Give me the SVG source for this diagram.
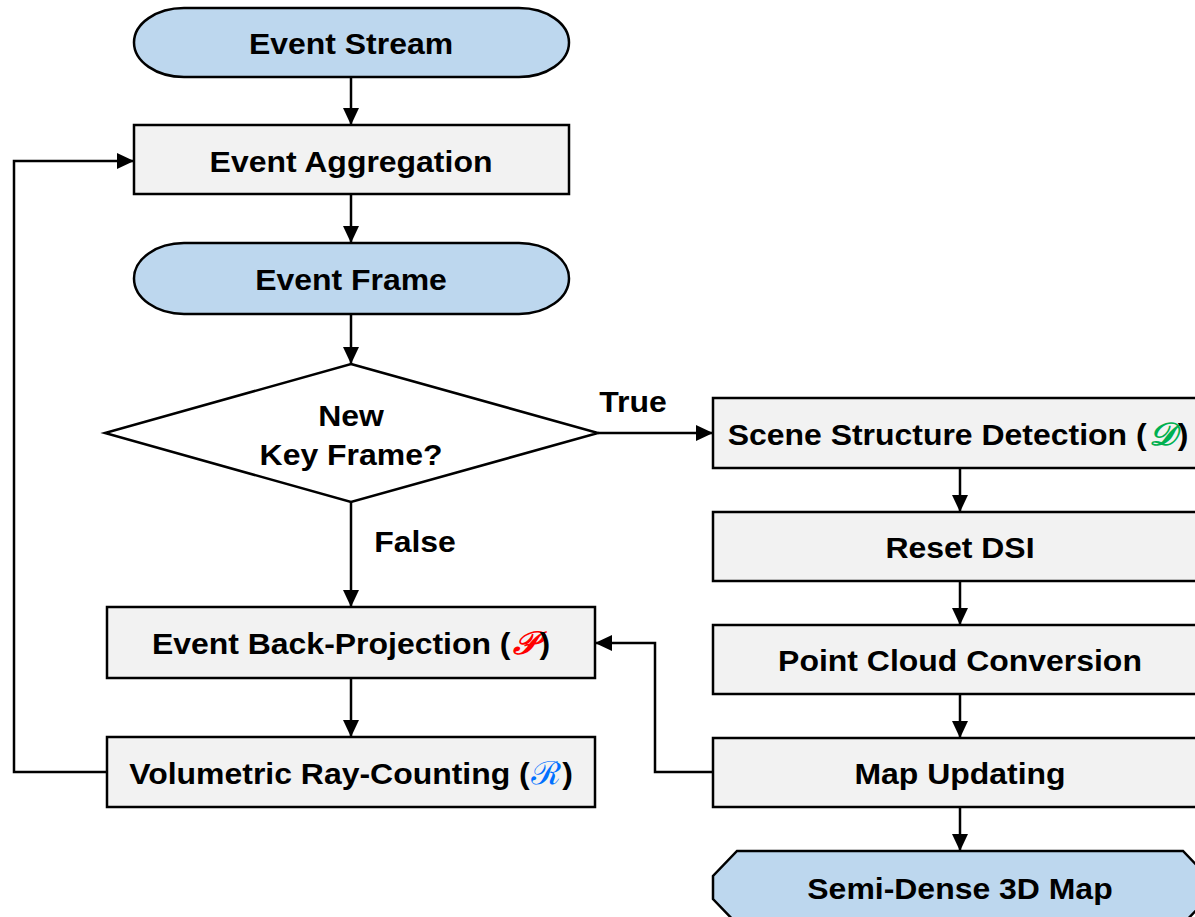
<svg xmlns="http://www.w3.org/2000/svg" width="1195" height="917" viewBox="0 0 1195 917">
<defs>
<style>
.blue{fill:#BDD7EE;stroke:#000;stroke-width:2.5}
.gray{fill:#F2F2F2;stroke:#000;stroke-width:2.5}
.t{font-family:"Liberation Sans",Arial,sans-serif;font-weight:bold;font-size:30px;fill:#000;text-anchor:middle}
.c{fill:none;stroke:#000;stroke-width:2.5}
.m{font-family:"DejaVu Serif","Noto Sans",serif;font-style:italic;font-weight:bold;font-size:32px}
</style>
<marker id="a" markerWidth="18" markerHeight="16" refX="17" refY="8" orient="auto" markerUnits="userSpaceOnUse">
<path d="M0,0 L17,8 L0,16 Z" fill="#000"/>
</marker>
</defs>
<g id="connectors">
<line class="c" x1="351" y1="77" x2="351" y2="125" marker-end="url(#a)"/>
<line class="c" x1="351" y1="194" x2="351" y2="243" marker-end="url(#a)"/>
<line class="c" x1="351" y1="314" x2="351" y2="364" marker-end="url(#a)"/>
<line class="c" x1="351" y1="502" x2="351" y2="607" marker-end="url(#a)"/>
<line class="c" x1="351" y1="678" x2="351" y2="737" marker-end="url(#a)"/>
<line class="c" x1="598" y1="433" x2="713" y2="433" marker-end="url(#a)"/>
<line class="c" x1="960" y1="468" x2="960" y2="512" marker-end="url(#a)"/>
<line class="c" x1="960" y1="581" x2="960" y2="625" marker-end="url(#a)"/>
<line class="c" x1="960" y1="694" x2="960" y2="738" marker-end="url(#a)"/>
<line class="c" x1="960" y1="807" x2="960" y2="851" marker-end="url(#a)"/>
<polyline class="c" points="107,772 14,772 14,161 134,161" marker-end="url(#a)"/>
<polyline class="c" points="713,772 655,772 655,643 595,643" marker-end="url(#a)"/>
<g transform="scale(1.065,1)">
<text class="t" x="594.4" y="412">True</text>
<text class="t" x="389.7" y="552">False</text>
</g>
</g>
<g id="event-stream">
<rect class="blue" x="134" y="8" width="435" height="69" rx="50" ry="34.5"/>
<text class="t" transform="scale(1.065,1)" x="329.6" y="54">Event Stream</text>
</g>
<g id="event-aggregation">
<rect class="gray" x="134" y="125" width="435" height="69"/>
<text class="t" transform="scale(1.065,1)" x="329.6" y="172">Event Aggregation</text>
</g>
<g id="event-frame">
<rect class="blue" x="134" y="243" width="435" height="71" rx="50" ry="35.5"/>
<text class="t" transform="scale(1.065,1)" x="329.6" y="290">Event Frame</text>
</g>
<g id="new-key-frame">
<polygon class="gray" style="fill:#fff" points="351,364 598,433 351,502 105,433"/>
<text class="t" transform="scale(1.065,1)" x="329.6" y="426">New</text>
<text class="t" transform="scale(1.065,1)" x="329.6" y="465">Key Frame?</text>
</g>
<g id="back-projection">
<rect class="gray" x="107" y="607" width="488" height="71"/>
<text class="t" transform="scale(1.065,1)" x="329.6" y="654">Event Back-Projection (<tspan class="m" fill="#FF0000" dx="2">𝒫</tspan><tspan dx="2">)</tspan></text>
</g>
<g id="ray-counting">
<rect class="gray" x="107" y="737" width="488" height="70"/>
<text class="t" transform="scale(1.065,1)" x="329.6" y="784">Volumetric Ray-Counting (<tspan class="m" fill="#0070FF" dx="1">ℛ</tspan><tspan dx="1">)</tspan></text>
</g>
<g id="scene-structure">
<rect class="gray" x="713" y="398" width="494" height="70"/>
<text class="t" transform="scale(1.065,1)" x="899.5" y="445">Scene Structure Detection (<tspan class="m" fill="#00B050" dx="2">𝒟</tspan><tspan dx="2">)</tspan></text>
</g>
<g id="reset-dsi">
<rect class="gray" x="713" y="512" width="494" height="69"/>
<text class="t" transform="scale(1.065,1)" x="901.4" y="558">Reset DSI</text>
</g>
<g id="point-cloud">
<rect class="gray" x="713" y="625" width="494" height="69"/>
<text class="t" transform="scale(1.065,1)" x="901.4" y="671">Point Cloud Conversion</text>
</g>
<g id="map-updating">
<rect class="gray" x="713" y="738" width="494" height="69"/>
<text class="t" transform="scale(1.065,1)" x="901.4" y="784">Map Updating</text>
</g>
<g id="semi-dense-map">
<polygon class="blue" points="737,851 1183,851 1207,876 1207,899 1183,924 737,924 713,899 713,876"/>
<text class="t" transform="scale(1.065,1)" x="901.4" y="899">Semi-Dense 3D Map</text>
</g>
</svg>
